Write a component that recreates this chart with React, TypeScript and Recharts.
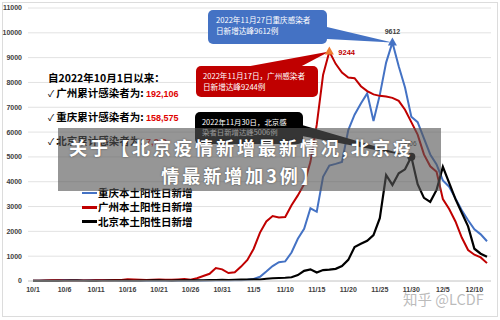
import React from 'react'
import {
  LineChart,
  Line,
  XAxis,
  YAxis,
  CartesianGrid,
  ReferenceDot,
} from 'recharts'

// 10/1 .. 12/12
const dates: string[] = [
  '10/1', '10/2', '10/3', '10/4', '10/5', '10/6', '10/7', '10/8', '10/9', '10/10',
  '10/11', '10/12', '10/13', '10/14', '10/15', '10/16', '10/17', '10/18', '10/19', '10/20',
  '10/21', '10/22', '10/23', '10/24', '10/25', '10/26', '10/27', '10/28', '10/29', '10/30',
  '10/31', '11/1', '11/2', '11/3', '11/4', '11/5', '11/6', '11/7', '11/8', '11/9',
  '11/10', '11/11', '11/12', '11/13', '11/14', '11/15', '11/16', '11/17', '11/18', '11/19',
  '11/20', '11/21', '11/22', '11/23', '11/24', '11/25', '11/26', '11/27', '11/28', '11/29',
  '11/30', '12/1', '12/2', '12/3', '12/4', '12/5', '12/6', '12/7', '12/8', '12/9',
  '12/10', '12/11', '12/12',
]

const chongqing: number[] = [
  10, 15, 20, 25, 30, 40, 35, 30, 25, 30,
  40, 45, 35, 30, 20, 15, 10, 12, 15, 10,
  8, 10, 12, 10, 8, 10, 12, 15, 20, 20,
  25, 25, 30, 30, 50, 80, 170, 380, 600, 760,
  790, 1150, 1700, 2100, 2930, 2790, 4200, 4650, 4720, 4800,
  6080, 6700, 7150, 7560, 6450, 7500, 8800, 9612, 8650, 7800,
  6620, 6400, 5750, 5100, 4700, 4050, 3800, 3330, 2850, 2450,
  2080, 1880, 1600,
]

const guangzhou: number[] = [
  8, 12, 20, 30, 35, 25, 20, 18, 22, 25,
  30, 28, 35, 40, 45, 70, 60, 50, 45, 55,
  60, 55, 50, 65, 80, 50, 110, 200, 290, 520,
  470, 320, 350, 580, 850, 1300, 1950, 2400, 2620, 2560,
  2580, 3050, 3450, 3900, 4800, 6300, 8300, 9244, 8750, 8400,
  8200, 8170, 7850, 7650, 7520, 7460, 7430, 7380, 7260, 6900,
  6400, 5900, 5100, 4620, 4400, 3300, 2900, 2400, 1750, 1250,
  1060, 950, 720,
]

const beijing: number[] = [
  5, 8, 10, 6, 5, 10, 12, 15, 10, 8,
  6, 10, 15, 20, 18, 12, 10, 15, 20, 25,
  22, 20, 18, 25, 30, 28, 25, 30, 35, 40,
  45, 40, 50, 55, 60, 65, 60, 90, 110, 120,
  130, 150, 240, 410, 470, 340, 440, 460, 490, 600,
  850, 1370, 1500, 1620, 1850, 2530, 4270, 3870, 4340, 4500,
  5006, 3900, 3350, 3190, 3670, 4600, 3950, 3300, 2750, 2200,
  1300, 1100, 980,
]

const yTicks = [0, 1000, 2000, 3000, 4000, 5000, 6000, 7000, 8000, 9000, 10000, 11000]

const seriesNames = ['重庆本土阳性日新增', '广州本土阳性日新增', '北京本土阳性日新增']
const seriesColors = ['#4472C4', '#C00000', '#000000']

const totals = [
  { city: '广州累计感染者为:', value: '192,106' },
  { city: '重庆累计感染者为:', value: '158,575' },
  { city: '北京累计感染者为:', value: '7,? ?' },
]

const data = dates.map((d, i) => ({
  date: d,
  cq: chongqing[i],
  gz: guangzhou[i],
  bj: beijing[i],
}))

const CJK = '"Noto Sans CJK SC", "Liberation Sans", sans-serif'
const NUM = '"Liberation Sans", Arial, sans-serif'

const BlueNote = (p: any) => {
  const { cx, cy } = p
  return (
    <g>
      <path d={`M327,27 L${cx},${cy} L327,39 Z`} fill="#4472C4" />
      <rect x={208} y={10} width={119} height={34} rx={5} fill="#4472C4" />
      <text x={216} y={23} fontSize={7.6} fill="#fff" fontFamily={CJK}>2022年11月27日重庆感染者</text>
      <text x={216} y={34} fontSize={7.6} fill="#fff" fontFamily={CJK}>日新增达峰9612例</text>
      <path d={`M${cx},${cy - 5} L${cx + 4.5},${cy + 3} L${cx - 4.5},${cy + 3} Z`} fill="#4472C4" />
      <text x={cx} y={cy - 8} fontSize={7} fontWeight="bold" fill="#404040" textAnchor="middle" fontFamily={NUM}>9612</text>
    </g>
  )
}

const RedNote = (p: any) => {
  const { cx, cy } = p
  return (
    <g>
      <path d={`M245,67 L${cx},${cy} L300,67 Z`} fill="#C00000" />
      <rect x={196} y={66} width={122} height={31} rx={5} fill="#C00000" />
      <text x={203} y={79} fontSize={7.6} fill="#fff" fontFamily={CJK}>2022年11月17日，广州感染者</text>
      <text x={203} y={90} fontSize={7.6} fill="#fff" fontFamily={CJK}>日新增达峰9244例</text>
      <path d={`M${cx},${cy - 5} L${cx + 4.5},${cy + 3} L${cx - 4.5},${cy + 3} Z`} fill="#ED7D31" />
      <text x={cx + 9} y={cy + 3} fontSize={7.5} fontWeight="bold" fill="#C00000" fontFamily={NUM}>9244</text>
    </g>
  )
}

const BlackNote = (p: any) => {
  const { cx, cy } = p
  return (
    <g>
      <path d={`M302,125 L${cx},${cy} L302,136 Z`} fill="#000" />
      <rect x={195} y={112} width={108} height={32} rx={5} fill="#000" />
      <text x={202} y={124.5} fontSize={7.4} fill="#fff" fontFamily={CJK}>2022年11月30日，北京感</text>
      <text x={202} y={135} fontSize={7.4} fill="#fff" fontFamily={CJK}>染者日新增达峰5006例</text>
      <text x={cx - 2} y={cy - 11} fontSize={6.5} fill="#404040" textAnchor="middle" fontFamily={NUM}>5006</text>
      <circle cx={cx} cy={cy} r={4} fill="#000" />
    </g>
  )
}

export default function App() {
  return (
    <div style={{ position: 'absolute', left: 0, top: 0, width: 500, height: 320, background: '#fff', overflow: 'hidden' }}>
      <div style={{ position: 'absolute', left: 2, top: 2, width: 494, height: 313, border: '1px solid #dcdcdc' }} />
      <LineChart
        width={500}
        height={320}
        data={data}
        margin={{ top: 8, right: 9, left: 0, bottom: 19 }}
        style={{ position: 'absolute', left: 0, top: 0 }}
      >
        <CartesianGrid vertical={false} stroke="#e2e2e2" />
        <XAxis
          dataKey="date"
          interval={4}
          height={20}
          padding={{ left: 5, right: 4 }}
          tickLine={false}
          tickSize={0}
          tickMargin={6}
          axisLine={{ stroke: '#d0d0d0' }}
          tick={{ fontSize: 7, fontWeight: 'bold', fill: '#404040', fontFamily: NUM }}
        />
        <YAxis
          width={28}
          domain={[0, 11000]}
          ticks={yTicks}
          axisLine={false}
          tickLine={false}
          tickSize={0}
          tickMargin={6}
          tick={{ fontSize: 7, fontWeight: 'bold', fill: '#404040', fontFamily: NUM }}
        />
        <Line type="linear" dataKey="cq" name={seriesNames[0]} stroke={seriesColors[0]} strokeWidth={2} dot={false} isAnimationActive={false} />
        <Line type="linear" dataKey="gz" name={seriesNames[1]} stroke={seriesColors[1]} strokeWidth={2} dot={false} isAnimationActive={false} />
        <Line type="linear" dataKey="bj" name={seriesNames[2]} stroke={seriesColors[2]} strokeWidth={2.2} dot={false} isAnimationActive={false} />
        <ReferenceDot x="11/27" y={9612} shape={BlueNote} />
        <ReferenceDot x="11/17" y={9244} shape={RedNote} />
        <ReferenceDot x="11/30" y={5006} shape={BlackNote} />
      </LineChart>

      {/* legend */}
      <div style={{ position: 'absolute', left: 82, top: 186, fontFamily: CJK, fontSize: 10.5, fontWeight: 'bold', color: '#000' }}>
        {seriesNames.map((n, i) => (
          <div key={n} style={{ display: 'flex', alignItems: 'center', height: 14.3, lineHeight: '14.3px', whiteSpace: 'nowrap' }}>
            <span style={{ display: 'inline-block', width: 15, height: 2.5, background: seriesColors[i], marginRight: 1 }} />
            <span>{n}</span>
          </div>
        ))}
      </div>

      {/* cumulative totals text block */}
      <div style={{ position: 'absolute', left: 48, top: 70, fontFamily: CJK, fontWeight: 'bold', fontSize: 10.5, color: '#000', whiteSpace: 'nowrap', lineHeight: '16px' }}>
        自2022年10月1日以来：
      </div>
      {totals.map((t, i) => (
        <div
          key={t.city}
          style={{ position: 'absolute', left: 48, top: 85 + i * 24, fontFamily: CJK, fontSize: 10.5, color: '#000', whiteSpace: 'nowrap', lineHeight: '16px' }}
        >
          <span style={{ fontSize: 9 }}>✓ </span>
          <span style={{ fontWeight: 'bold' }}>{t.city} </span>
          <span style={{ color: '#E00000', fontWeight: 'bold', fontSize: 9, fontFamily: NUM }}>{t.value}</span>
        </div>
      ))}

      {/* headline band */}
      <div
        style={{
          position: 'absolute', left: 58, top: 128, width: 383, height: 63,
          background: 'rgba(85,85,85,0.62)', color: '#fff', fontFamily: CJK, fontWeight: 'bold',
          fontSize: 18, letterSpacing: 3, lineHeight: '28px', textAlign: 'center', paddingTop: 5,
          paddingRight: 16, boxSizing: 'border-box', textShadow: '0 0 2px rgba(0,0,0,0.5)',
        }}
      >
        <div style={{ whiteSpace: 'nowrap' }}>关于【北京疫情新增最新情况,北京疫</div>
        <div style={{ whiteSpace: 'nowrap' }}>情最新增加3例】</div>
      </div>

      {/* watermark */}
      <div style={{ position: 'absolute', left: 403, top: 290, fontFamily: CJK, fontSize: 14.5, color: 'rgba(165,165,165,0.75)', whiteSpace: 'nowrap', lineHeight: '18px' }}>
        知乎 @LCDF
      </div>
    </div>
  )
}
